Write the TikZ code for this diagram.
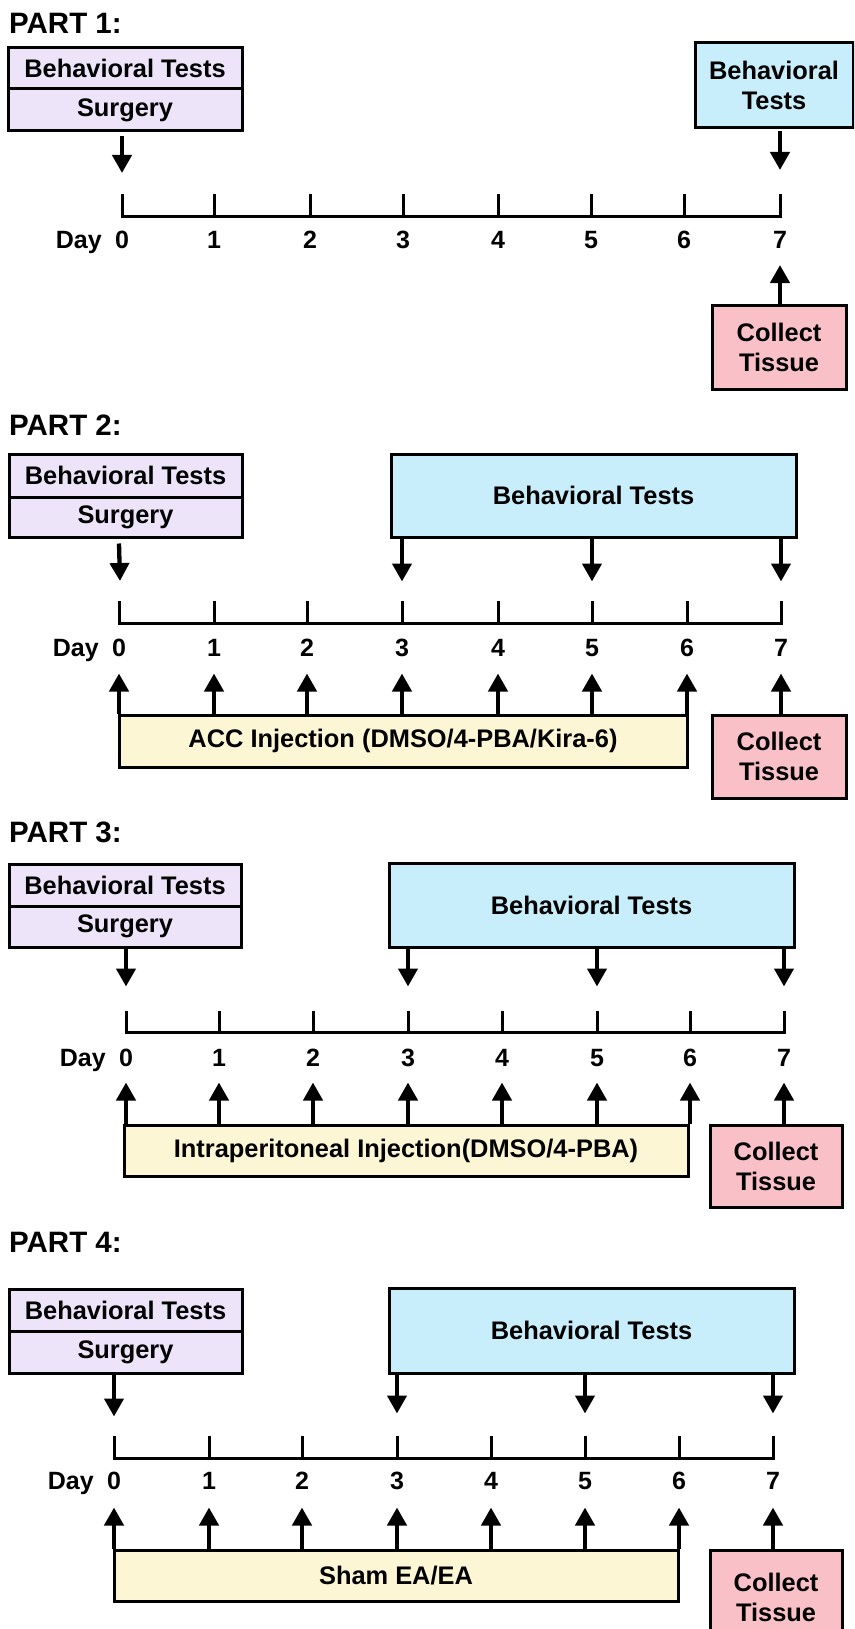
\documentclass[tikz,border=0pt]{standalone}
\usepackage{fontspec}
\setmainfont{Liberation Sans}
\usetikzlibrary{arrows.meta}
\definecolor{purp}{HTML}{EDE4FA}
\definecolor{blu}{HTML}{C8EEFB}
\definecolor{yel}{HTML}{FCF6D5}
\definecolor{pnk}{HTML}{FAC0C7}
\tikzset{
  box/.style={draw=black, line width=3pt, inner sep=0pt, align=center,
    font=\bfseries\fontsize{25.4}{30}\selectfont},
  purpbox/.style={box, fill=purp},
  blubox/.style={box, fill=blu},
  yelbox/.style={box, fill=yel},
  pnkbox/.style={box, fill=pnk},
  arr/.style={line width=4.3pt, -{Triangle[width=19pt,length=18pt]}},
  axisline/.style={line width=3pt},
  lab/.style={font=\bfseries\fontsize{25}{28}\selectfont, inner sep=0pt},
  parttitle/.style={font=\bfseries\fontsize{29.5}{32}\selectfont, anchor=base west, inner sep=0pt}
}
% #1 name, #2 style, #3 x1, #4 y1, #5 x2, #6 y2, #7 text
\newcommand\bx[7]{%
  \node[#2, minimum width={(#5-#3)*1pt}, minimum height={(#6-#4)*1pt}]
    (#1) at ({(#3+#5)/2},{(#4+#6)/2}) {#7};}
% #1 id, #2 tick top y, #3 axis y, #4 label base y, #5 list i/x
\newcommand\timeline[5]{%
  \foreach \i/\x in {#5} {
    \coordinate (t#1\i) at (\x,#3);
    \draw[axisline] (\x,#2) -- (t#1\i);
    \node[lab, anchor=base] (n#1\i) at (\x,#4) {\i};
  }
  \draw[axisline, line cap=rect] (t#10) -- (t#17);
}
\begin{document}
\begin{tikzpicture}[x=1pt,y=-1pt]
\useasboundingbox (0,0) rectangle (854,1629);
\clip (0,0) rectangle (854,1629);
\fill[white] (0,0) rectangle (854,1629);

% ---------------- PART 1 ----------------
\node[parttitle] (p1) at (9,34) {PART 1:};
\bx{s1a}{purpbox}{8}{48}{242}{89}{Behavioral Tests}
\bx{s1b}{purpbox}{8}{89}{242}{131}{Surgery}
\bx{b1}{blubox}{695}{43}{853}{128}{Behavioral\\Tests}
\timeline{1}{194}{217}{249}{0/122,1/214,2/310,3/403,4/498,5/591,6/684,7/780}
\node[lab, anchor=base east] (day1) at (102,249) {Day};
\coordinate (u10) at (122,173);
\draw[arr] (s1b.south -| t10) ++(0,4) -- (u10);
\coordinate (u17) at (780,170);
\draw[arr] (b1.south -| t17) ++(0,2) -- (u17);
\bx{c1}{pnkbox}{712}{305}{846}{389}{Collect\\Tissue}
\coordinate (d17) at (780,265);
\draw[arr] (c1.north -| t17) -- (d17);

% ---------------- PART 2 ----------------
\node[parttitle] (p2) at (9,435) {PART 2:};
\bx{s2a}{purpbox}{9}{454}{242}{497}{Behavioral Tests}
\bx{s2b}{purpbox}{9}{497}{242}{537}{Surgery}
\bx{b2}{blubox}{391}{454}{796}{537}{Behavioral Tests}
\timeline{2}{601}{623}{656}{0/119,1/214,2/307,3/402,4/498,5/592,6/687,7/781}
\node[lab, anchor=base east] (day2) at (99,656) {Day};
\coordinate (u20) at (120,581);
\draw[arr] (s2b.south -| t20) ++(0,5) -- (u20);
\bx{y2}{yelbox}{119}{715}{687}{767}{ACC Injection (DMSO/4-PBA/Kira-6)}
\bx{c2}{pnkbox}{712}{715}{846}{798}{Collect\\Tissue}
\foreach \k in {0,...,6} {
  \draw[arr] (y2.north -| t2\k) -- ++(0,-40);
}
\draw[arr] (c2.north -| t27) -- ++(0,-40);

% ---------------- PART 3 ----------------
\node[parttitle] (p3) at (9,842) {PART 3:};
\bx{s3a}{purpbox}{9}{864}{241}{906}{Behavioral Tests}
\bx{s3b}{purpbox}{9}{906}{241}{947}{Surgery}
\bx{b3}{blubox}{389}{863}{794}{947}{Behavioral Tests}
\timeline{3}{1011}{1032}{1066}{0/126,1/219,2/313,3/408,4/502,5/597,6/690,7/784}
\node[lab, anchor=base east] (day3) at (106,1066) {Day};
\bx{y3}{yelbox}{124}{1125}{688}{1176}{Intraperitoneal Injection(DMSO/4-PBA)}
\bx{c3}{pnkbox}{710}{1125}{842}{1207}{Collect\\Tissue}
\foreach \k in {0,...,6} {
  \draw[arr] (y3.north -| t3\k) -- ++(0,-41);
}
\draw[arr] (c3.north -| t37) -- ++(0,-41);

% ---------------- PART 4 ----------------
\node[parttitle] (p4) at (9,1252) {PART 4:};
\bx{s4a}{purpbox}{9}{1289}{242}{1331}{Behavioral Tests}
\bx{s4b}{purpbox}{9}{1331}{242}{1373}{Surgery}
\bx{b4}{blubox}{389}{1288}{794}{1373}{Behavioral Tests}
\timeline{4}{1436}{1458}{1489}{0/114,1/209,2/302,3/397,4/491,5/585,6/679,7/773}
\node[lab, anchor=base east] (day4) at (94,1489) {Day};
\bx{y4}{yelbox}{114}{1550}{678}{1601}{Sham EA/EA}
\bx{c4}{pnkbox}{710}{1550}{842}{1645}{Collect\\Tissue}
\foreach \k in {0,...,6} {
  \draw[arr] (y4.north -| t4\k) -- ++(0,-41);
}
\draw[arr] (c4.north -| t47) -- ++(0,-41);

% down arrows to timelines (parts 2-4)
\draw[arr] (b2.south -| t23) -- ++(0,43);
\draw[arr] (b2.south -| t25) -- ++(0,43);
\draw[arr] (b2.south -| t27) -- ++(0,43);
\draw[arr] (s3b.south -| t30) -- ++(0,38);
\draw[arr] (b3.south -| t33) -- ++(0,38);
\draw[arr] (b3.south -| t35) -- ++(0,38);
\draw[arr] (b3.south -| t37) -- ++(0,38);
\draw[arr] (s4b.south -| t40) -- ++(0,42);
\draw[arr] (b4.south -| t43) -- ++(0,39);
\draw[arr] (b4.south -| t45) -- ++(0,39);
\draw[arr] (b4.south -| t47) -- ++(0,39);
\end{tikzpicture}
\end{document}
